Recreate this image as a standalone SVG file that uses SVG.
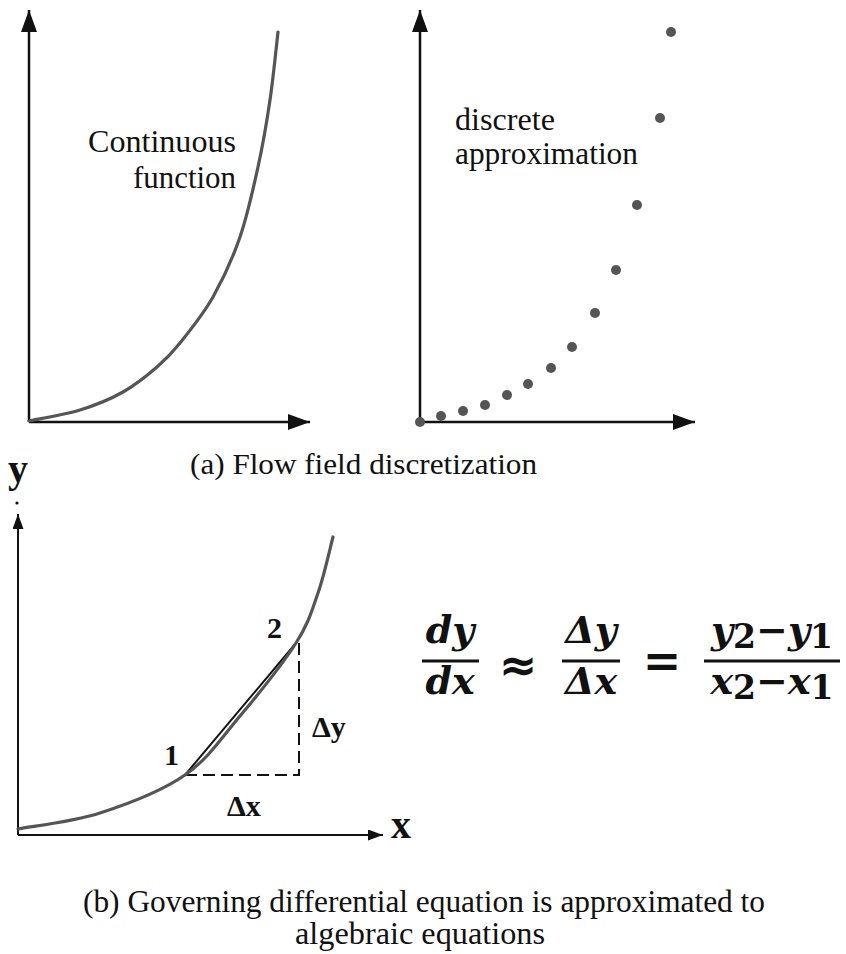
<svg xmlns="http://www.w3.org/2000/svg" width="846" height="954" viewBox="0 0 846 954">
<style>
.axis{stroke:#111;stroke-width:2.5;fill:none}
.axis2{stroke:#111;stroke-width:2;fill:none}
.curve{stroke:#555;stroke-width:3.2;fill:none;stroke-linecap:round}
.dash{stroke:#111;stroke-width:2;stroke-dasharray:12 6;fill:none}
.chord{stroke:#111;stroke-width:2;fill:none}
.dot{fill:#555}
.lbl{font-family:"Liberation Serif","Times New Roman",serif;fill:#111}
.b{font-weight:bold}
.eq{font-family:"DejaVu Serif",serif;font-weight:bold;font-style:italic;fill:#111;font-size:38px}
.op{font-family:"DejaVu Sans",sans-serif;font-weight:bold;font-style:normal;fill:#111;font-size:46px}
.sub{font-style:normal;font-size:33px}
.bar{fill:#111}
</style>
<defs>
<marker id="ah" viewBox="0 0 22 16" refX="22" refY="8" markerWidth="22" markerHeight="16" markerUnits="userSpaceOnUse" orient="auto">
<path d="M0,0 L22,8 L0,16 Z" fill="#111"/>
</marker>
<marker id="ahs" viewBox="0 0 15 11" refX="15" refY="5.5" markerWidth="15" markerHeight="11" markerUnits="userSpaceOnUse" orient="auto">
<path d="M0,0 L15,5.5 L0,11 Z" fill="#111"/>
</marker>
</defs>
<rect width="846" height="954" fill="#fff"/>

<g id="connectors">
<line class="axis" x1="29" y1="422" x2="29" y2="10" marker-end="url(#ah)"/>
<line class="axis" x1="29" y1="422" x2="310" y2="422" marker-end="url(#ah)"/>
<line class="axis" x1="420" y1="422" x2="420" y2="10" marker-end="url(#ah)"/>
<line class="axis" x1="420" y1="422" x2="695" y2="422" marker-end="url(#ah)"/>
<line class="axis2" x1="18" y1="835" x2="18" y2="514" marker-end="url(#ahs)"/>
<line class="axis2" x1="18" y1="835" x2="383" y2="835" marker-end="url(#ahs)"/>
<line class="dash" x1="185" y1="775" x2="300" y2="775"/>
<line class="dash" x1="299" y1="643" x2="299" y2="775"/>
<line class="chord" x1="185" y1="775" x2="296" y2="643"/>
</g>

<g id="continuous-curve">
<path class="curve" d="M29,421 C37.5,419.2 64.3,414.8 80,410 C95.7,405.2 110.2,399.2 123,392 C135.8,384.8 147.5,375.2 157,367 C166.5,358.8 170.7,354.7 180,343 C189.3,331.3 203,314.7 213,297 C223,279.3 232.5,258.7 240,237 C247.5,215.3 253,189.8 258,167 C263,144.2 266.7,122.5 270,100 C273.3,77.5 276.7,43.3 278,32"/>
<text class="lbl" x="236" y="152" font-size="31" text-anchor="end" textLength="148" lengthAdjust="spacingAndGlyphs">Continuous</text>
<text class="lbl" x="236" y="188" font-size="31" text-anchor="end" textLength="103" lengthAdjust="spacingAndGlyphs">function</text>
</g>

<g id="discrete-points">
<circle class="dot" cx="420" cy="422" r="5"/>
<circle class="dot" cx="441" cy="416" r="5"/>
<circle class="dot" cx="463" cy="411" r="5"/>
<circle class="dot" cx="485" cy="405" r="5"/>
<circle class="dot" cx="507" cy="395" r="5"/>
<circle class="dot" cx="528" cy="384" r="5"/>
<circle class="dot" cx="551" cy="368" r="5"/>
<circle class="dot" cx="572" cy="347" r="5"/>
<circle class="dot" cx="595" cy="313" r="5"/>
<circle class="dot" cx="616" cy="270" r="5"/>
<circle class="dot" cx="637" cy="205" r="5"/>
<circle class="dot" cx="660" cy="118" r="5"/>
<circle class="dot" cx="671" cy="32" r="5"/>
<text class="lbl" x="455" y="130" font-size="31" textLength="100" lengthAdjust="spacingAndGlyphs">discrete</text>
<text class="lbl" x="455" y="164" font-size="31" textLength="183" lengthAdjust="spacingAndGlyphs">approximation</text>
</g>

<g id="caption-a">
<text class="lbl" x="363.5" y="474" font-size="30" text-anchor="middle" textLength="347" lengthAdjust="spacingAndGlyphs">(a) Flow field discretization</text>
</g>

<g id="panel-b">
<text class="lbl b" x="8" y="482" font-size="40">y</text>
<circle cx="17" cy="503" r="1.6" fill="#111"/>
<text class="lbl b" x="391" y="838" font-size="40">x</text>
<path class="curve" d="M18,829 C31.7,826.3 72.2,822 100,813 C127.8,804 161.7,791.2 185,775 C208.3,758.8 221.5,738 240,716 C258.5,694 283,663.5 296,643 C309,622.5 311.8,610.7 318,593 C324.2,575.3 330.5,546.3 333,537"/>
<text class="lbl b" x="164" y="765" font-size="30">1</text>
<text class="lbl b" x="267" y="638" font-size="30">2</text>
<text class="lbl b" x="312" y="737" font-size="30">Δy</text>
<text class="lbl b" x="227" y="816" font-size="30">Δx</text>
</g>

<g id="equation">
<text class="eq" x="450" y="643" text-anchor="middle">dy</text>
<rect class="bar" x="422" y="659.5" width="57" height="3"/>
<text class="eq" x="450" y="694" text-anchor="middle">dx</text>
<text class="op" x="518" y="681" text-anchor="middle" font-size="56">≈</text>
<text class="eq" x="591" y="643" text-anchor="middle">Δy</text>
<rect class="bar" x="562" y="659.5" width="58" height="3"/>
<text class="eq" x="591" y="694" text-anchor="middle">Δx</text>
<text class="op" x="662" y="677" text-anchor="middle">=</text>
<text class="eq" x="772" y="643" text-anchor="middle">y<tspan class="sub" dy="5">2</tspan><tspan dy="-5" font-style="normal">−</tspan>y<tspan class="sub" dy="5">1</tspan></text>
<rect class="bar" x="704" y="659.5" width="136" height="3"/>
<text class="eq" x="772" y="694" text-anchor="middle">x<tspan class="sub" dy="5">2</tspan><tspan dy="-5" font-style="normal">−</tspan>x<tspan class="sub" dy="5">1</tspan></text>
</g>

<g id="caption-b">
<text class="lbl" x="424" y="912" font-size="31" text-anchor="middle" textLength="682" lengthAdjust="spacingAndGlyphs">(b) Governing differential equation is approximated to</text>
<text class="lbl" x="420" y="944" font-size="31" text-anchor="middle" textLength="250" lengthAdjust="spacingAndGlyphs">algebraic equations</text>
</g>
</svg>
